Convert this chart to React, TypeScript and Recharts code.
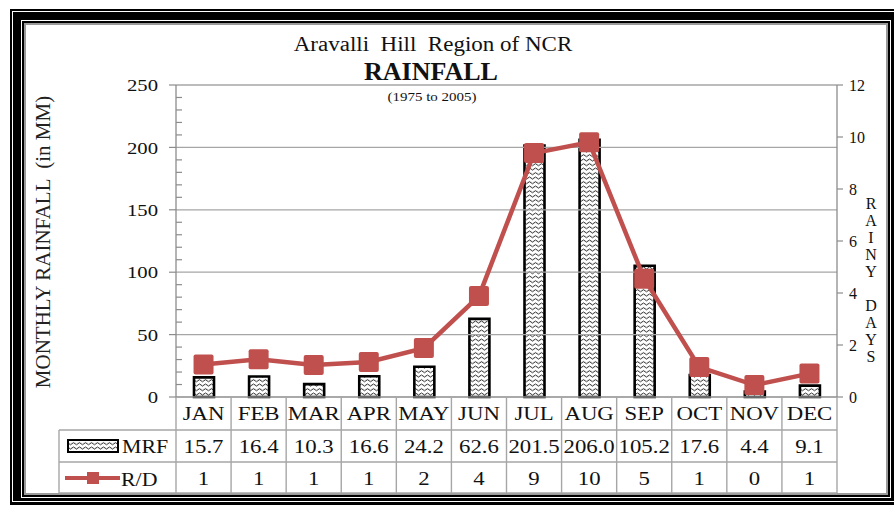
import React from "react";
import { Bar, ComposedChart, Line, ReferenceLine, XAxis, YAxis } from "recharts";

const months = ["JAN", "FEB", "MAR", "APR", "MAY", "JUN", "JUL", "AUG", "SEP", "OCT", "NOV", "DEC"];
const rainfallMm = [15.7, 16.4, 10.3, 16.6, 24.2, 62.6, 201.5, 206.0, 105.2, 17.6, 4.4, 9.1];
const rainfallLabels = ["15.7", "16.4", "10.3", "16.6", "24.2", "62.6", "201.5", "206.0", "105.2", "17.6", "4.4", "9.1"];
// plotted rainy days (as drawn in the line), table shows rounded values
const rainyDays = [1.25, 1.45, 1.23, 1.35, 1.88, 3.88, 9.38, 9.8, 4.55, 1.15, 0.46, 0.9];
const rainyDayLabels = ["1", "1", "1", "1", "2", "4", "9", "10", "5", "1", "0", "1"];

const leftTicks = [0, 10, 20, 30, 40, 50, 60, 70, 80, 90, 100, 110, 120, 130, 140, 150, 160, 170, 180, 190, 200, 210, 220, 230, 240, 250];
const leftMajorTicks = [0, 50, 100, 150, 200, 250];
const rightTicks = [0, 2, 4, 6, 8, 10, 12];

const chartData = months.map((month, i) => ({
  month,
  mrf: rainfallMm[i],
  rd: rainyDays[i],
}));

const serif = "'Liberation Serif', 'Times New Roman', serif";
const axisGray = "#8c8c8c";
const gridGray = "#a6a6a6";
const red = "#C0504D";

function LeftTick(props: any) {
  const { x, y, payload } = props;
  const v = payload.value;
  if (leftMajorTicks.includes(v)) {
    return (
      <g>
        <line x1={x - 7} x2={x} y1={y} y2={y} stroke={axisGray} strokeWidth={1.2} />
        <text
          transform={`translate(${x - 18},${y}) scale(1.22,1)`}
          textAnchor="end"
          dy="0.36em"
          fontSize={17}
          fontFamily={serif}
          fill="#111"
        >
          {v}
        </text>
      </g>
    );
  }
  return <line x1={x} x2={x + 6} y1={y} y2={y} stroke={axisGray} strokeWidth={1.2} />;
}

function Cell(props: { x: number; y: number; text: string }) {
  return (
    <text
      transform={`translate(${props.x},${props.y}) scale(1.2,1)`}
      textAnchor="middle"
      fontSize={19}
      fontFamily={serif}
      fill="#111"
    >
      {props.text}
    </text>
  );
}

function TableTick(props: any) {
  const { x, y, payload } = props;
  const i = months.indexOf(payload.value);
  const half = payload.offset || 27.5;
  const r1 = y + 33;
  const r2 = y + 65;
  const r3 = y + 96;
  const left = x - half;
  const right = x + half;
  const lc = { stroke: gridGray, strokeWidth: 1.4 };
  return (
    <g>
      <Cell x={x} y={y + 23} text={payload.value} />
      <Cell x={x} y={y + 56} text={rainfallLabels[i]} />
      <Cell x={x} y={y + 88} text={rainyDayLabels[i]} />
      <line x1={right} x2={right} y1={y} y2={r3} {...lc} />
      <line x1={left} x2={right} y1={r1} y2={r1} {...lc} />
      <line x1={left} x2={right} y1={r2} y2={r2} {...lc} />
      <line x1={left} x2={right} y1={r3} y2={r3} {...lc} />
      {i === 0 && (
        <g>
          <line x1={left} x2={left} y1={y} y2={r3} {...lc} />
          <line x1={left - 117} x2={left} y1={r1} y2={r1} {...lc} />
          <line x1={left - 117} x2={left} y1={r2} y2={r2} {...lc} />
          <line x1={left - 117} x2={left} y1={r3} y2={r3} {...lc} />
          <line x1={left - 117} x2={left - 117} y1={r1} y2={r3} {...lc} />
          <rect x={left - 108} y={r1 + 10} width={50} height={12} fill="url(#waves)" stroke="#000" strokeWidth={2} />
          <text
            transform={`translate(${left - 54},${r1 + 23}) scale(1.15,1)`}
            fontSize={19}
            fontFamily={serif}
            fill="#111"
          >
            MRF
          </text>
          <line x1={left - 111} x2={left - 56} y1={r2 + 16} y2={r2 + 16} stroke={red} strokeWidth={4} />
          <rect x={left - 89} y={r2 + 10} width={12} height={12} fill={red} />
          <text
            transform={`translate(${left - 55},${r2 + 24}) scale(1.15,1)`}
            fontSize={19}
            fontFamily={serif}
            fill="#111"
          >
            R/D
          </text>
        </g>
      )}
    </g>
  );
}

function SquareDot(props: any) {
  const { cx, cy, index } = props;
  return <rect key={`d${index}`} x={cx - 10} y={cy - 10} width={20} height={20} rx={2} fill={red} />;
}

export default function App() {
  return (
    <div style={{ position: "absolute", left: 0, top: 0, width: 894, height: 505, overflow: "hidden", background: "#fff", fontFamily: serif }}>
      {/* frame */}
      <div style={{ position: "absolute", left: 10, top: 9, width: 900, height: 510, background: "#000" }} />
      <div style={{ position: "absolute", left: 12, top: 11, width: 900, height: 489, border: "1px solid #fff" }} />
      <div style={{ position: "absolute", left: 21, top: 20, width: 868, height: 476, border: "1.5px solid #fff" }} />
      <div
        style={{
          position: "absolute",
          left: 23,
          top: 22,
          width: 864,
          height: 472,
          background: "#fff",
          border: "1px solid #000",
          boxShadow: "inset 2px 2px 0 #9a9a9a, inset -2px -2px 0 #9a9a9a",
        }}
      />

      <div style={{ position: "absolute", left: 0, top: 0 }}>
        <ComposedChart width={894} height={505} data={chartData} margin={{ top: 85, right: 0, bottom: 12, left: 0 }}>
          <defs>
            <pattern id="waves" width="6" height="4.5" patternUnits="userSpaceOnUse">
              <rect width="6" height="4.5" fill="#fff" />
              <path d="M0 2.6 Q1.5 0.6 3 2.6 T6 2.6" fill="none" stroke="#000" strokeWidth="0.9" />
            </pattern>
          </defs>
          {leftMajorTicks.slice(1).map((v) => (
            <ReferenceLine key={v} yAxisId="left" y={v} stroke={gridGray} strokeWidth={1.3} />
          ))}
          <XAxis
            dataKey="month"
            interval={0}
            height={96}
            tickSize={0}
            tickMargin={0}
            tickLine={false}
            axisLine={{ stroke: axisGray, strokeWidth: 1.3 }}
            tick={<TableTick />}
          />
          <YAxis
            yAxisId="left"
            domain={[0, 250]}
            ticks={leftTicks}
            interval={0}
            width={176}
            tickSize={0}
            tickMargin={0}
            tickLine={false}
            axisLine={{ stroke: axisGray, strokeWidth: 1.3 }}
            tick={<LeftTick />}
          />
          <YAxis
            yAxisId="right"
            orientation="right"
            domain={[0, 12]}
            ticks={rightTicks}
            interval={0}
            width={57}
            tickSize={6}
            tickMargin={6}
            tickLine={{ stroke: axisGray, strokeWidth: 1.2 }}
            axisLine={{ stroke: axisGray, strokeWidth: 1.3 }}
            tick={{ fontSize: 16, fontFamily: serif, fill: "#111" }}
          />
          <Bar
            yAxisId="left"
            dataKey="mrf"
            barSize={20}
            fill="url(#waves)"
            stroke="#000"
            strokeWidth={2.6}
            isAnimationActive={false}
          />
          <Line
            yAxisId="right"
            type="linear"
            dataKey="rd"
            stroke={red}
            strokeWidth={4.5}
            dot={<SquareDot />}
            activeDot={false}
            isAnimationActive={false}
          />
        </ComposedChart>
      </div>

      {/* titles */}
      <div style={{ position: "absolute", left: 433, top: 32, transform: "translateX(-50%) scaleX(1.15)", fontSize: 20, whiteSpace: "pre", color: "#111", lineHeight: "24px" }}>
        {"Aravalli  Hill  Region of NCR"}
      </div>
      <div style={{ position: "absolute", left: 431, top: 57, transform: "translateX(-50%)", fontSize: 26, fontWeight: "bold", whiteSpace: "pre", color: "#111", lineHeight: "30px" }}>
        RAINFALL
      </div>
      <div style={{ position: "absolute", left: 432, top: 89, transform: "translateX(-50%) scaleX(1.15)", fontSize: 13, whiteSpace: "pre", color: "#111", lineHeight: "16px" }}>
        (1975 to 2005)
      </div>

      {/* left axis title */}
      <div
        style={{
          position: "absolute",
          left: 43,
          top: 242,
          transform: "translate(-50%, -50%) rotate(-90deg)",
          fontSize: 21,
          whiteSpace: "pre",
          color: "#222",
          lineHeight: "24px",
        }}
      >
        {"MONTHLY RAINFALL  (in MM)"}
      </div>

      {/* right axis title */}
      <div style={{ position: "absolute", left: 862, top: 195, width: 18, textAlign: "center", fontSize: 16, lineHeight: "17px", color: "#111" }}>
        {["R", "A", "I", "N", "Y", "\u00a0", "D", "A", "Y", "S"].map((c, i) => (
          <div key={i}>{c}</div>
        ))}
      </div>
    </div>
  );
}
